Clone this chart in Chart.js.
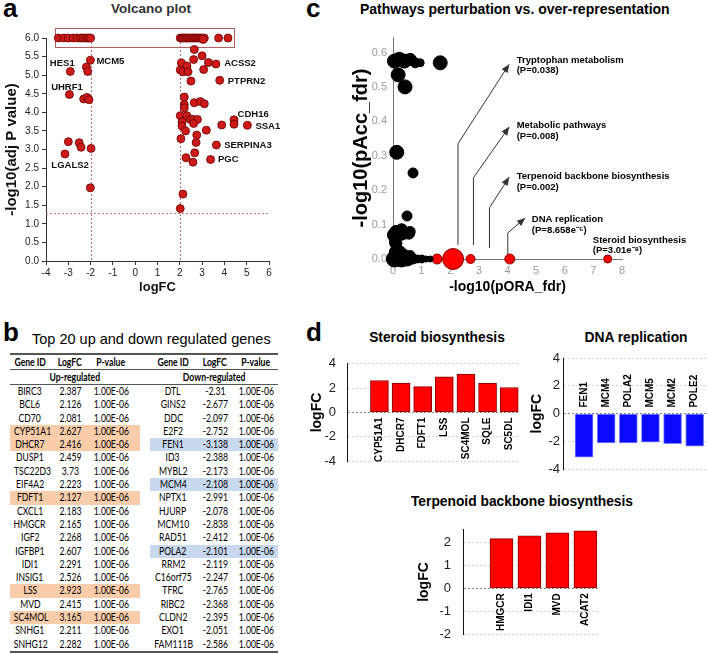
<!DOCTYPE html>
<html>
<head>
<meta charset="utf-8">
<script src="https://cdn.jsdelivr.net/npm/chart.js@4.4.0/dist/chart.umd.min.js"></script>
<style>
body{margin:0;width:708px;height:654px;position:relative;background:#fff;overflow:hidden;font-family:"Liberation Sans",Arial,sans-serif;color:#000}
canvas{position:absolute}
.letter{position:absolute;font-weight:bold;font-size:26px;line-height:26px}
.ttl{position:absolute;font-weight:bold;white-space:nowrap;line-height:1}
.ctr{transform:translate(-50%,-50%)}
.mid{transform:translateY(-50%)}
#tbl{position:absolute;left:10px;top:353px;width:268px;border-collapse:collapse;table-layout:fixed;font-family:Lato,"Open Sans",sans-serif;font-size:10.5px;color:#000}
#tbl td{padding:0;text-align:center;white-space:nowrap;overflow:visible}
#tbl td span{display:inline-block;transform:scaleX(0.82)}
#tbl tr.data td{height:13.3px;line-height:13.3px}
#tbl tr.head td{height:14px;line-height:14px}
</style>
</head>
<body>
<div class="letter" style="left:3px;top:-5px">a</div>
<div class="letter" style="left:3px;top:319px">b</div>
<div class="letter" style="left:306px;top:-5px">c</div>
<div class="letter" style="left:306px;top:319px">d</div>

<div class="ttl ctr" style="left:151px;top:9px;font-size:13.5px;color:#333">Volcano plot</div>
<div class="ttl mid" style="left:360px;top:9px;font-size:14px">Pathways perturbation vs. over-representation</div>
<div class="ttl mid" style="left:32px;top:339px;font-size:14.5px;font-weight:normal">Top 20 up and down regulated genes</div>
<div class="ttl ctr" style="left:437px;top:338px;font-size:13.8px">Steroid biosynthesis</div>
<div class="ttl ctr" style="left:636px;top:338px;font-size:13.8px">DNA replication</div>
<div class="ttl ctr" style="left:522px;top:502px;font-size:13.8px">Terpenoid backbone biosynthesis</div>

<canvas id="volcano" width="300" height="295" style="left:0;top:0"></canvas>
<canvas id="pathways" width="358" height="276" style="left:350px;top:20px"></canvas>
<canvas id="steroid" width="235" height="135" style="left:290px;top:345px"></canvas>
<canvas id="dna" width="183" height="135" style="left:525px;top:345px"></canvas>
<canvas id="terp" width="205" height="144" style="left:400px;top:510px"></canvas>
<table id="tbl"></table>

<script>
// ---- panel a: volcano plot ----
var volcanoX = [-3.45, -3.2, -3.0, -2.78, -2.6, -2.45, -2.35, -2.25, -2.15, -2.08, -2.0,
    -2.01, -2.19, -2.13, -2.91, -2.95, -2.31, -2.16, -2.07, -3.0, -2.51, -2.43, -1.98, -3.15, -2.01,
    2.02, 2.1, 2.17, 2.25, 2.32, 2.4, 2.47, 2.55, 2.62, 2.7, 2.77, 2.85, 2.92, 3.0, 3.1, 3.74, 4.16, 3.05,
    2.65, 3.0, 2.62, 2.07, 2.32, 3.28, 3.62, 2.02, 2.14, 2.37, 3.07, 2.5, 3.79,
    2.2, 2.2, 2.2, 2.65, 2.92, 3.1, 2.02, 2.32, 2.1, 2.47, 2.59, 2.79, 2.1, 2.26, 2.62,
    4.43, 4.43, 3.88, 5.03, 3.19, 2.76, 2.05, 2.73, 3.64, 2.67, 2.28, 2.59, 3.38, 2.14, 2.02];
var volcanoY = [6, 6, 6, 6, 6, 6, 6, 6, 6, 6, 6,
    5.40, 5.22, 5.10, 5.10, 4.48, 4.36, 4.40, 4.34, 3.21, 3.18, 3.06, 3.03, 2.88, 1.97,
    6, 6, 6, 6, 6, 6, 6, 6, 6, 6, 6, 6, 6, 6, 6, 6, 6, 5.96,
    5.69, 5.52, 5.42, 5.33, 5.25, 5.34, 5.30, 5.14, 5.09, 5.09, 5.15, 4.84, 4.86,
    4.41, 4.21, 4.12, 4.26, 4.29, 4.23, 3.91, 3.91, 3.74, 3.81, 3.81, 3.81, 3.63, 3.50, 3.70,
    3.80, 3.68, 3.66, 3.65, 3.52, 3.39, 3.29, 3.19, 3.12, 2.91, 2.78, 2.66, 2.73, 1.80, 1.41];
var volcanoXTicks = [-4, -3, -2, -1, 0, 1, 2, 3, 4, 5, 6];
var volcanoYTicks = [0, 0.5, 1, 1.5, 2, 2.5, 3, 3.5, 4, 4.5, 5, 5.5, 6];
var volcanoCutX = [-2, 2];
var volcanoCutY = 1.3;
var volcanoBoxX = [-3.6, 4.43];
var volcanoBoxY = [5.75, 6.26];
// gene names and where their text sits (data units)
var volcanoNames = ['HES1', 'MCM5', 'UHRF1', 'LGALS2', 'ACSS2', 'PTPRN2', 'CDH16', 'SSA1', 'SERPINA3', 'PGC'];
var volcanoNameX = [-3.27, -1.74, -3.06, -2.92, 3.99, 4.15, 4.59, 5.39, 3.99, 3.71];
var volcanoNameY = [5.31, 5.37, 4.68, 2.58, 5.31, 4.83, 3.94, 3.61, 3.10, 2.73];
var volcanoNameAlign = ['center', 'left', 'center', 'center', 'left', 'left', 'left', 'left', 'left', 'left'];

// ---- panel b: table ----
var upGenes = ['BIRC3', 'BCL6', 'CD70', 'CYP51A1', 'DHCR7', 'DUSP1', 'TSC22D3', 'EIF4A2', 'FDFT1', 'CXCL1',
    'HMGCR', 'IGF2', 'IGFBP1', 'IDI1', 'INSIG1', 'LSS', 'MVD', 'SC4MOL', 'SNHG1', 'SNHG12'];
var upLogFC = ['2.387', '2.126', '2.081', '2.627', '2.416', '2.459', '3.73', '2.223', '2.127', '2.183',
    '2.165', '2.268', '2.607', '2.291', '2.526', '2.923', '2.415', '3.165', '2.211', '2.282'];
var upPValue = ['1.00E-06', '1.00E-06', '1.00E-06', '1.00E-06', '1.00E-06', '1.00E-06', '1.00E-06', '1.00E-06', '1.00E-06', '1.00E-06',
    '1.00E-06', '1.00E-06', '1.00E-06', '1.00E-06', '1.00E-06', '1.00E-06', '1.00E-06', '1.00E-06', '1.00E-06', '1.00E-06'];
var downGenes = ['DTL', 'GINS2', 'DDC', 'E2F2', 'FEN1', 'ID3', 'MYBL2', 'MCM4', 'NPTX1', 'HJURP',
    'MCM10', 'RAD51', 'POLA2', 'RRM2', 'C16orf75', 'TFRC', 'RIBC2', 'CLDN2', 'EXO1', 'FAM111B'];
var downLogFC = ['-2.31', '-2.677', '-2.097', '-2.752', '-3.138', '-2.388', '-2.173', '-2.108', '-2.991', '-2.078',
    '-2.838', '-2.412', '-2.101', '-2.119', '-2.247', '-2.765', '-2.368', '-2.395', '-2.051', '-2.586'];
var downPValue = ['1.00E-06', '1.00E-06', '1.00E-06', '1.00E-06', '1.00E-06', '1.00E-06', '1.00E-06', '1.00E-06', '1.00E-06', '1.00E-06',
    '1.00E-06', '1.00E-06', '1.00E-06', '1.00E-06', '1.00E-06', '1.00E-06', '1.00E-06', '1.00E-06', '1.00E-06', '1.00E-06'];
var upMarked = ['CYP51A1', 'DHCR7', 'FDFT1', 'LSS', 'SC4MOL'];
var downMarked = ['FEN1', 'MCM4', 'POLA2'];

// ---- panel c: pathways bubble chart ----
var otherPathX = [0.05, 0.22, 0.4, 0.6, 0.78, 0.95, 1.65, 0.18, 0.42, 0.13, 0.7, 0.49,
    0.1, 0.3, 0.6, 0.05, 0.15, 0.05, 0.3, 0.5, 0.7, 0.85, 1.0, 1.15, 1.3, 0.2, 0.6,
    0.05, 0.3, 0.55, 0.1, 0.08, 0.25, 0.4];
var otherPathY = [0.575, 0.58, 0.575, 0.58, 0.57, 0.57, 0.57, 0.535, 0.50, 0.31, 0.25, 0.125,
    0.08, 0.085, 0.08, 0.05, 0.03, 0, 0, 0, 0, 0, 0, 0, 0, 0.015, 0.01,
    0.07, 0.075, 0.075, 0.045, 0.02, 0.02, 0.01];
var otherPathR = [7, 7, 7, 6, 5, 4, 7, 7, 7, 7, 5, 5,
    6, 6, 5, 5, 5, 8, 8, 7, 5, 4, 4, 3, 3, 6, 5,
    7, 7, 6, 6, 6, 6, 6];
var sigPathX = [1.54, 2.1, 2.71, 4.08, 7.5];
var sigPathY = [0, 0, 0, 0, 0];
var sigPathR = [5, 10.5, 4.5, 5, 4];
var pathXTicks = [0, 1, 2, 3, 4, 5, 6, 7, 8];
var pathYTicks = [0, 0.1, 0.2, 0.3, 0.4, 0.5, 0.6];
var pathNotes = [
    {name: 'Tryptophan metabolism', p: '(P=0.038)', lineX: 2.27, y0: 0.041, bendY: 0.335, tipX: 4.06, tipY: 0.566, textX: 4.32, textY: 0.578},
    {name: 'Metabolic pathways', p: '(P=0.008)', lineX: 2.81, y0: 0.041, bendY: 0.236, tipX: 4.06, tipY: 0.384, textX: 4.32, textY: 0.388},
    {name: 'Terpenoid backbone biosynthesis', p: '(P=0.002)', lineX: 3.37, y0: 0.032, bendY: 0.149, tipX: 4.06, tipY: 0.238, textX: 4.32, textY: 0.240},
    {name: 'DNA replication', p: '(P=8.658e\u207B\u2075)', lineX: 4.01, y0: 0.014, bendY: 0.076, tipX: 4.62, tipY: 0.119, textX: 4.85, textY: 0.114},
    {name: 'Steroid biosynthesis', p: '(P=3.01e\u207B\u2078)', textX: 6.98, textY: 0.055}
];

// ---- panel d: bar charts ----
var steroidGenes = ['CYP51A1', 'DHCR7', 'FDFT1', 'LSS', 'SC4MOL', 'SQLE', 'SC5DL'];
var steroidLogFC = [2.627, 2.416, 2.127, 2.923, 3.165, 2.4, 2.05];
var dnaGenes = ['FEN1', 'MCM4', 'POLA2', 'MCM5', 'MCM2', 'POLE2'];
var dnaLogFC = [-3.138, -2.108, -2.101, -2.05, -2.17, -2.35];
var terpGenes = ['HMGCR', 'IDI1', 'MVD', 'ACAT2'];
var terpLogFC = [2.165, 2.291, 2.415, 2.5];
var logFCTicks4 = [-4, -2, 0, 2, 4];
var logFCTicks2 = [-2, -1, 0, 1, 2];

var FONT = '"Liberation Sans", Arial, sans-serif';
Chart.defaults.font.family = FONT;
Chart.defaults.animation = false;
Chart.defaults.plugins.legend.display = false;
Chart.defaults.plugins.tooltip.enabled = false;

function fixedTicks(list) {
    return function(scale) { scale.ticks = list.map(function(v) { return {value: v}; }); };
}
function fixedWidth(w) { return function(scale) { scale.width = w; }; }
function fixedHeight(h) { return function(scale) { scale.height = h; }; }
function toPoints(xs, ys, rs) {
    return xs.map(function(x, i) {
        var p = {x: x, y: ys[i]};
        if (rs) p.r = rs[i];
        return p;
    });
}

// dotted cut-offs, box and gene names on the volcano plot
var volcanoDecor = {
    id: 'volcanoDecor',
    beforeDatasetsDraw: function(chart) {
        var ctx = chart.ctx, xs = chart.scales.x, ys = chart.scales.y;
        ctx.save();
        ctx.strokeStyle = '#cc6f6f';
        ctx.lineWidth = 1;
        ctx.setLineDash([2, 2]);
        volcanoCutX.forEach(function(v) {
            var px = Math.round(xs.getPixelForValue(v)) + 0.5;
            ctx.beginPath();
            ctx.moveTo(px, ys.getPixelForValue(6));
            ctx.lineTo(px, ys.getPixelForValue(0));
            ctx.stroke();
        });
        var py = Math.round(ys.getPixelForValue(volcanoCutY)) + 0.5;
        ctx.beginPath();
        ctx.moveTo(xs.getPixelForValue(-4), py);
        ctx.lineTo(xs.getPixelForValue(6), py);
        ctx.stroke();
        ctx.setLineDash([]);
        ctx.strokeStyle = '#b35e5e';
        var x0 = xs.getPixelForValue(volcanoBoxX[0]), x1 = xs.getPixelForValue(volcanoBoxX[1]);
        var y0 = ys.getPixelForValue(volcanoBoxY[1]), y1 = ys.getPixelForValue(volcanoBoxY[0]);
        ctx.strokeRect(Math.round(x0) + 0.5, Math.round(y0) + 0.5, Math.round(x1 - x0), Math.round(y1 - y0));
        ctx.restore();
    },
    afterDatasetsDraw: function(chart) {
        var ctx = chart.ctx, xs = chart.scales.x, ys = chart.scales.y;
        ctx.save();
        ctx.font = 'bold 9.5px ' + FONT;
        ctx.fillStyle = '#111';
        ctx.textBaseline = 'middle';
        volcanoNames.forEach(function(name, i) {
            ctx.textAlign = volcanoNameAlign[i];
            ctx.fillText(name, xs.getPixelForValue(volcanoNameX[i]), ys.getPixelForValue(volcanoNameY[i]));
        });
        ctx.restore();
    }
};

new Chart(document.getElementById('volcano'), {
    type: 'scatter',
    data: {
        datasets: [{
            data: toPoints(volcanoX, volcanoY),
            backgroundColor: '#cc1a1a',
            borderColor: '#6a0000',
            borderWidth: 0.8,
            pointRadius: 4,
            clip: false
        }]
    },
    options: {
        responsive: false,
        layout: {padding: {top: 38, right: 31, left: 0, bottom: 0}},
        scales: {
            x: {
                type: 'linear', min: -4, max: 6,
                afterBuildTicks: fixedTicks(volcanoXTicks),
                afterFit: fixedHeight(34),
                ticks: {font: {size: 10}, color: '#222', padding: 2, autoSkip: false, maxRotation: 0},
                grid: {drawOnChartArea: false, drawTicks: true, tickLength: 4, color: '#333'},
                border: {display: true, color: '#333'},
                title: {display: true, text: 'logFC', font: {size: 13, weight: 'bold'}, color: '#111', padding: 0}
            },
            y: {
                type: 'linear', min: 0, max: 6,
                afterBuildTicks: fixedTicks(volcanoYTicks),
                afterFit: fixedWidth(46),
                ticks: {font: {size: 10}, color: '#222', padding: 3, autoSkip: false,
                    callback: function(v) { return v.toFixed(1); }},
                grid: {drawOnChartArea: false, drawTicks: true, tickLength: 4, color: '#333'},
                border: {display: true, color: '#333'},
                title: {display: true, text: '-log10(adj P value)', font: {size: 15, weight: 'bold'}, color: '#111', padding: {top: 3, bottom: 0}}
            }
        }
    },
    plugins: [volcanoDecor]
});

// arrows and names on the pathways chart
var pathDecor = {
    id: 'pathDecor',
    afterDatasetsDraw: function(chart) {
        var ctx = chart.ctx, xs = chart.scales.x, ys = chart.scales.y;
        ctx.save();
        ctx.strokeStyle = '#333';
        ctx.fillStyle = '#333';
        ctx.lineWidth = 1;
        pathNotes.forEach(function(n) {
            if (n.lineX !== undefined) {
                var lx = xs.getPixelForValue(n.lineX);
                var tx = xs.getPixelForValue(n.tipX), ty = ys.getPixelForValue(n.tipY);
                var bx = lx, by = ys.getPixelForValue(n.bendY);
                ctx.beginPath();
                ctx.moveTo(lx, ys.getPixelForValue(n.y0));
                ctx.lineTo(bx, by);
                ctx.lineTo(tx, ty);
                ctx.stroke();
                var a = Math.atan2(ty - by, tx - bx);
                ctx.beginPath();
                ctx.moveTo(tx, ty);
                ctx.lineTo(tx - 9 * Math.cos(a - 0.4), ty - 9 * Math.sin(a - 0.4));
                ctx.lineTo(tx - 9 * Math.cos(a + 0.4), ty - 9 * Math.sin(a + 0.4));
                ctx.closePath();
                ctx.fill();
            }
        });
        ctx.fillStyle = '#000';
        ctx.font = 'bold 9.5px ' + FONT;
        ctx.textAlign = 'left';
        ctx.textBaseline = 'middle';
        pathNotes.forEach(function(n) {
            var px = xs.getPixelForValue(n.textX), py = ys.getPixelForValue(n.textY);
            ctx.fillText(n.name, px, py);
            ctx.fillText(n.p, px, py + 10.5);
        });
        ctx.restore();
    }
};

new Chart(document.getElementById('pathways'), {
    type: 'bubble',
    data: {
        datasets: [{
            data: toPoints(otherPathX, otherPathY, otherPathR),
            backgroundColor: '#000',
            borderColor: '#000',
            borderWidth: 1,
            clip: false
        }, {
            data: toPoints(sigPathX, sigPathY, sigPathR),
            backgroundColor: '#ff0000',
            borderColor: '#8a0000',
            borderWidth: 1,
            clip: false
        }]
    },
    options: {
        responsive: false,
        layout: {padding: {top: 17, right: 86, left: 0, bottom: 0}},
        scales: {
            x: {
                type: 'linear', min: 0, max: 8,
                afterBuildTicks: fixedTicks(pathXTicks),
                afterFit: fixedHeight(37),
                ticks: {font: {size: 11}, color: '#9a9a9a', padding: 5, autoSkip: false, maxRotation: 0},
                grid: {display: false, drawTicks: false},
                border: {display: true, color: '#777'},
                title: {display: true, text: '-log10(pORA_fdr)', font: {size: 14, weight: 'bold'}, color: '#000', padding: 0}
            },
            y: {
                type: 'linear', min: 0, max: 0.645,
                afterBuildTicks: fixedTicks(pathYTicks),
                afterFit: fixedWidth(43),
                ticks: {font: {size: 11}, color: '#9a9a9a', padding: 6, autoSkip: false,
                    callback: function(v) { return v.toFixed(1); }},
                grid: {display: false, drawTicks: false},
                border: {display: true, color: '#777'},
                title: {display: true, text: '-log10(pAcc_fdr)', font: {size: 20, weight: 'bold'}, color: '#000', padding: {top: -1, bottom: 0}}
            }
        }
    },
    plugins: [pathDecor]
});

// gene names written along the bars, next to the zero line
var barNames = {
    id: 'barNames',
    afterDatasetsDraw: function(chart) {
        var ctx = chart.ctx, xs = chart.scales.x, y0 = chart.scales.y.getPixelForValue(0);
        var pts = chart.data.datasets[0].data;
        ctx.save();
        ctx.font = 'bold 10px ' + FONT;
        ctx.fillStyle = '#000';
        ctx.textBaseline = 'middle';
        chart.data.labels.forEach(function(name, i) {
            var up = pts[i].y >= 0;
            ctx.save();
            ctx.translate(xs.getPixelForValue(pts[i].x), up ? y0 + 5 : y0 - 6);
            ctx.rotate(-Math.PI / 2);
            ctx.textAlign = up ? 'right' : 'left';
            ctx.fillText(name, 0, 0);
            ctx.restore();
        });
        ctx.restore();
    }
};

function barChart(id, genes, values, o) {
    return new Chart(document.getElementById(id), {
        type: 'bar',
        data: {
            labels: genes,
            datasets: [{
                data: genes.map(function(g, i) { return {x: i, y: values[i]}; }),
                backgroundColor: o.fill,
                borderColor: o.edge,
                borderWidth: 1,
                borderSkipped: false,
                barThickness: o.thickness
            }]
        },
        options: {
            responsive: false,
            layout: {padding: o.padding},
            scales: {
                x: {type: 'linear', min: o.xMin, max: o.xMax, display: false, offset: false},
                y: {
                    type: 'linear', min: o.yMin, max: o.yMax,
                    afterBuildTicks: fixedTicks(o.ticks),
                    afterFit: fixedWidth(o.axisWidth),
                    ticks: {font: {size: 13}, color: '#222', padding: o.tickPad, autoSkip: false},
                    grid: {drawTicks: false, color: function(c) { return c.tick && c.tick.value === 0 ? '#8a8a8a' : '#d4d4d4'; }},
                    border: {display: true, color: '#111', dash: [2, 2]},
                    title: {display: true, text: 'logFC', font: {size: 14, weight: 'bold'}, color: '#000', padding: {top: o.titlePad, bottom: 0}}
                }
            }
        },
        plugins: [barNames]
    });
}

barChart('steroid', steroidGenes, steroidLogFC, {
    fill: '#ff0000', edge: '#8a0000', thickness: 18,
    padding: {top: 13, bottom: 4, left: 0, right: 5},
    xMin: -1.5, xMax: 6.5, yMin: -4, yMax: 4, ticks: logFCTicks4,
    axisWidth: 57, tickPad: 11, titlePad: 19
});
barChart('dna', dnaGenes, dnaLogFC, {
    fill: '#0a0aff', edge: '#7f86ff', thickness: 18,
    padding: {top: 13, bottom: 4, left: 0, right: 0},
    xMin: -0.95, xMax: 5.6, yMin: -4, yMax: 4, ticks: logFCTicks4,
    axisWidth: 38, tickPad: 3, titlePad: 4
});
barChart('terp', terpGenes, terpLogFC, {
    fill: '#ff0000', edge: '#8a0000', thickness: 23,
    padding: {top: 10, bottom: 4, left: 0, right: 7},
    xMin: -1.375, xMax: 3.45, yMin: -2, yMax: 2.55, ticks: logFCTicks2,
    axisWidth: 63, tickPad: 12, titlePad: 16
});

// ---- table ----
var tbl = document.getElementById('tbl');
var colWidths = [40, 40, 50, 10, 46, 38, 44];
var cg = document.createElement('colgroup');
colWidths.forEach(function(w) {
    var c = document.createElement('col');
    c.style.width = w + 'px';
    cg.appendChild(c);
});
tbl.appendChild(cg);

function addCell(tr, text, opts) {
    var td = document.createElement('td');
    opts = opts || {};
    if (opts.span) td.colSpan = opts.span;
    if (opts.bg) td.style.background = opts.bg;
    if (opts.bold) td.style.fontWeight = 'bold';
    if (opts.padR) td.style.paddingRight = opts.padR + 'px';
    var s = document.createElement('span');
    s.textContent = text;
    td.appendChild(s);
    tr.appendChild(td);
    return td;
}
function styleRow(tr, top, bottom) {
    Array.prototype.forEach.call(tr.children, function(td) {
        if (top) td.style.borderTop = top;
        if (bottom) td.style.borderBottom = bottom;
    });
}

var hr = document.createElement('tr');
hr.className = 'head';
['Gene ID', 'LogFC', 'P-value', '', 'Gene ID', 'LogFC', 'P-value'].forEach(function(t, i) {
    addCell(hr, t, {bold: true, padR: i === 2 ? 8 : 0});
});
styleRow(hr, '2px solid #555', '1px solid #555');
tbl.appendChild(hr);

var sr = document.createElement('tr');
sr.className = 'head';
addCell(sr, 'Up-regulated', {span: 3, bold: true});
addCell(sr, '');
addCell(sr, 'Down-regulated', {span: 3, bold: true});
styleRow(sr, null, '1px solid #555');
tbl.appendChild(sr);

upGenes.forEach(function(g, i) {
    var tr = document.createElement('tr');
    tr.className = 'data';
    var ub = upMarked.indexOf(g) >= 0 ? '#f9ccaa' : null;
    var db = downMarked.indexOf(downGenes[i]) >= 0 ? '#c8d9ef' : null;
    addCell(tr, g, {bg: ub});
    addCell(tr, upLogFC[i], {bg: ub});
    addCell(tr, upPValue[i], {bg: ub, padR: 8});
    addCell(tr, '');
    addCell(tr, downGenes[i], {bg: db});
    addCell(tr, downLogFC[i], {bg: db});
    addCell(tr, downPValue[i], {bg: db});
    if (i === upGenes.length - 1) styleRow(tr, null, '2px solid #555');
    tbl.appendChild(tr);
});
</script>
</body>
</html>
